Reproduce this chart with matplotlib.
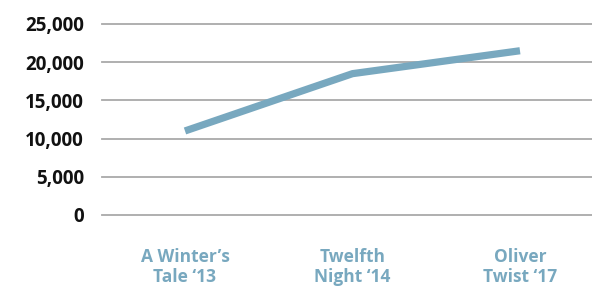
import matplotlib.pyplot as plt

# Data
shows = ["A Winter\u2019s\nTale \u201813", "Twelfth\nNight \u201814", "Oliver\nTwist \u201817"]
attendance = [11000, 18500, 21500]
y_ticks = [0, 5000, 10000, 15000, 20000, 25000]

line_color = "#78A8BF"
grid_color = "#A9A9A9"

plt.rcParams['font.family'] = ['Open Sans', 'DejaVu Sans']

fig = plt.figure(figsize=(5.92, 2.94), dpi=100)
ax = fig.add_axes([102 / 592, 1 - 215 / 294, 490 / 592, (215 - 24) / 294])

x = range(len(shows))
ax.plot(x, attendance, color=line_color, linewidth=5.2, solid_capstyle='butt', zorder=3)

ax.set_ylim(0, 25000)
ax.set_xlim(-0.4955, 2.43)
ax.set_yticks(y_ticks)
ax.set_yticklabels([f"{v:,}" for v in y_ticks], fontsize=13.5, fontweight='bold', color='#111111')
ax.set_xticks(list(x))
ax.set_xticklabels(shows, fontsize=12.5, fontweight='bold', color=line_color, linespacing=1.1)

ax.tick_params(axis='y', length=0, pad=13)
ax.tick_params(axis='x', length=0, pad=24)

for v in y_ticks:
    ax.axhline(v, color=grid_color, linewidth=1.3, zorder=1, clip_on=False)

for s in ax.spines.values():
    s.set_visible(False)

fig.savefig("out.png", dpi=100)
